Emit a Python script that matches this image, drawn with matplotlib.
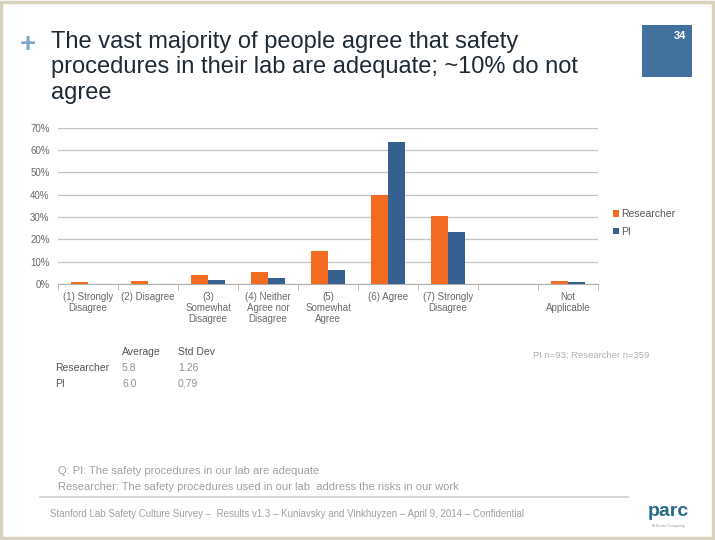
import matplotlib.pyplot as plt
from matplotlib.patches import Rectangle
import numpy as np

plt.rcParams['font.family'] = ['Liberation Sans', 'DejaVu Sans']

categories = ['(1) Strongly\nDisagree', '(2) Disagree', '(3)\nSomewhat\nDisagree',
              '(4) Neither\nAgree nor\nDisagree', '(5)\nSomewhat\nAgree', '(6) Agree',
              '(7) Strongly\nDisagree', '', 'Not\nApplicable']
researcher = [1.0, 1.5, 4.0, 5.5, 14.8, 39.7, 30.6, 0.0, 1.5]
pi = [0.0, 0.0, 2.0, 2.8, 6.3, 63.7, 23.4, 0.0, 1.0]
yticks = [0, 10, 20, 30, 40, 50, 60, 70]

stats_header = ['Average', 'Std Dev']
stats_rows = [('Researcher', '5.8', '1.26'), ('PI', '6.0', '0,79')]

ORANGE = '#F26B21'
BLUE = '#35608F'

W, H = 715, 540
fig = plt.figure(figsize=(W / 100, H / 100), dpi=100)
fig.patch.set_facecolor('white')

# slide frame
fig.patches.append(Rectangle((0.002, 0.003), 0.995, 0.993, transform=fig.transFigure,
                             fill=False, edgecolor='#d8d2bd', linewidth=2.5))

# title
fig.text(20 / W, 1 - 45 / H, '+', fontsize=20, color='#7ea5cc', fontweight='bold',
         va='center', ha='left')
fig.text(51 / W, 1 - 31 / H,
         'The vast majority of people agree that safety\nprocedures in their lab are adequate; ~10% do not\nagree',
         fontsize=17, color='#1e2a36', va='top', ha='left', linespacing=1.2)

# page number box
fig.patches.append(Rectangle((642 / W, 1 - 77 / H), 50 / W, 52 / H, transform=fig.transFigure,
                             facecolor='#41719c', edgecolor='none'))
fig.text(686 / W, 1 - 36 / H, '34', fontsize=8, color='white', ha='right', va='center',
         fontweight='bold')

# chart
ax = fig.add_axes([58 / W, 1 - 284 / H, 540 / W, 156.3 / H])
x = np.arange(len(categories))
bw = 0.285
ax.bar(x - bw / 2, researcher, bw, color=ORANGE, label='Researcher', zorder=3)
ax.bar(x + bw / 2, pi, bw, color=BLUE, label='PI', zorder=3)
ax.set_xlim(-0.5, len(categories) - 0.5)
ax.set_ylim(0, 70)
ax.set_yticks(yticks)
ax.set_yticklabels([f'{v}%' for v in yticks], fontsize=7, color='#6a6a6a')
ax.set_xticks(x)
ax.set_xticklabels(categories, fontsize=7, color='#6a6a6a', linespacing=1.1)
ax.set_xticks(np.arange(-0.5, len(categories)), minor=True)
ax.tick_params(axis='x', which='major', length=0, pad=6)
ax.tick_params(axis='x', which='minor', length=4, color='#b0b0b0')
ax.tick_params(axis='y', length=0, pad=6)
ax.grid(axis='y', color='#c4c4c4', linewidth=0.9, zorder=0)
for s in ['top', 'right', 'left']:
    ax.spines[s].set_visible(False)
ax.spines['bottom'].set_color('#b0b0b0')
ax.legend(loc='center left', bbox_to_anchor=(1.01, 0.39), frameon=False, fontsize=7.5,
          handlelength=0.6, handleheight=0.6, handletextpad=0.2, labelspacing=0.7,
          labelcolor='#555555')

# stats table
fig.text(122 / W, 1 - 352 / H, stats_header[0], fontsize=7.5, color='#555555', va='center')
fig.text(178 / W, 1 - 352 / H, stats_header[1], fontsize=7.5, color='#555555', va='center')
for i, (name, avg, sd) in enumerate(stats_rows):
    yy = 1 - (368 + 16 * i) / H
    fig.text(55 / W, yy, name, fontsize=7.5, color='#555555', va='center')
    fig.text(122 / W, yy, avg, fontsize=7.5, color='#909090', va='center')
    fig.text(178 / W, yy, sd, fontsize=7.5, color='#909090', va='center')

fig.text(533 / W, 1 - 355 / H, 'PI n=93; Researcher n=359', fontsize=6.8, color='#b0b0b0',
         va='center')

# question text
fig.text(58 / W, 1 - 471 / H, 'Q: PI: The safety procedures in our lab are adequate',
         fontsize=8, color='#a0a0a0', va='center')
fig.text(58 / W, 1 - 487 / H,
         'Researcher: The safety procedures used in our lab  address the risks in our work',
         fontsize=8, color='#a0a0a0', va='center')

# footer
fig.add_artist(plt.Line2D([40 / W, 628 / W], [1 - 497 / H, 1 - 497 / H], color='#cfcfcf',
                          linewidth=1.2, transform=fig.transFigure))
fig.text(50 / W, 1 - 514 / H,
         'Stanford Lab Safety Culture Survey –  Results v1.3 – Kuniavsky and Vinkhuyzen – April 9, 2014 – Confidential',
         fontsize=7, color='#a0a0a0', va='center')
fig.text(668 / W, 1 - 511 / H, 'parc', fontsize=14, fontweight='bold', color='#2b6b87',
         ha='center', va='center')
fig.text(668 / W, 1 - 526 / H, 'A Xerox Company', fontsize=3, color='#999999',
         ha='center', va='center')

fig.savefig('out.png', dpi=100)
